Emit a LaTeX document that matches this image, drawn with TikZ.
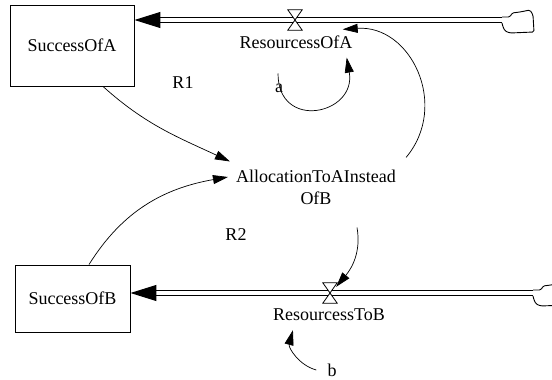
\documentclass[tikz,border=0pt]{standalone}
\usepackage{fontspec}
\setmainfont{Liberation Serif}
\newfontfamily\vensimfont{Liberation Serif}
\usetikzlibrary{arrows.meta, calc}

\tikzset{
    sourcecloud/.pic={ % Source / sink cloud at the end of a pipe
        \draw[line width=0.9pt, rounded corners=1.5pt]
            (0,3) -- (8,3) -- (10,7) -- (18,8) -- (28,10) -- (31,5)
            -- (32,-12) -- (8,-13) -- (3,-11) -- (1,-7) -- (0,-3);
    }
}

\begin{document}
\begin{tikzpicture}[
    x=1pt, y=1pt,
    >={Triangle[length=15pt, width=9pt]},
    % Styles
    stock/.style={ % Level variables
        rectangle,
        draw,
        line width=0.9pt,
        minimum width=124pt,
        minimum height=81pt,
        font=\vensimfont\fontsize{18}{22}\selectfont
    },
    var/.style={ % Rates, auxiliaries and loop names
        inner sep=2pt,
        font=\vensimfont\fontsize{18}{22}\selectfont
    },
    valve/.style={
        rectangle,
        inner sep=0pt,
        minimum width=14pt,
        minimum height=20pt
    },
    pipe/.style={ % Flow pipes
        double,
        double distance=4pt,
        line width=1pt,
        -{Triangle[length=26pt, width=16pt]}
    },
    link/.style={ % Causal links
        ->,
        line width=0.7pt
    }
]
    \useasboundingbox (0,0) rectangle (552,-380);

    % Stocks
    \node[stock] (SuccessOfA) at (72,-45.5) {SuccessOfA};
    \node[stock, minimum width=115pt, minimum height=67pt] (SuccessOfB) at (72.5,-298.5) {SuccessOfB};

    % Clouds and valves
    \coordinate (cloudA) at (502,-20);
    \coordinate (cloudB) at (533,-293);
    \node[valve] (valveA) at (295,-20) {};
    \node[valve] (valveB) at (330,-293) {};

    % Flows
    \draw[pipe] (cloudA) -- (cloudA -| SuccessOfA.east);
    \draw[pipe] (cloudB) -- (cloudB -| SuccessOfB.east);
    \pic at (cloudA) {sourcecloud};
    \pic at (cloudB) {sourcecloud};
    \foreach \v in {valveA, valveB}
        \filldraw[fill=white, line width=0.8pt] (\v.north west) -- (\v.north east)
            -- (\v.south west) -- (\v.south east) -- cycle;

    % Variable names
    \node[var] (ResA) at (296,-42) {ResourcessOfA};
    \node[var] (ResB) at (329,-315) {ResourcessToB};
    \node[var, align=center] (Alloc) at (316,-187) {AllocationToAInstead\\OfB};
    \node[var] (a) at (279,-88) {a};
    \node[var] (b) at (332,-370) {b};

    % Loop names
    \node[var] (R1) at (183,-83) {R1};
    \node[var] (R2) at (236,-235) {R2};

    % Links
    \draw[link] ([xshift=31pt]SuccessOfA.south) to[out=-42, in=155] ([shift={(-4pt,6pt)}]Alloc.north west);
    \draw[link] ([xshift=16.5pt]SuccessOfB.north) to[out=58, in=190] ([shift={(-6pt,10pt)}]Alloc.west);
    \draw[link] ([shift={(8pt,10pt)}]Alloc.north east) to[out=50, in=4, looseness=1.22] ([shift={(-12pt,4pt)}]ResA.north east);
    \draw[link] ([shift={(-1pt,8pt)}]a.north) to[out=-90, in=-80, looseness=2.1] ([shift={(-8pt,-7pt)}]ResA.south east);
    \draw[link] ([shift={(41pt,-21pt)}]Alloc.south) to[out=-80, in=50] ([shift={(-1pt,-4pt)}]valveB.north east);
    \draw[link] ([xshift=-9pt]b.west) to[out=165, in=-105] ([shift={(22pt,-7pt)}]ResB.south west);
\end{tikzpicture}
\end{document}
